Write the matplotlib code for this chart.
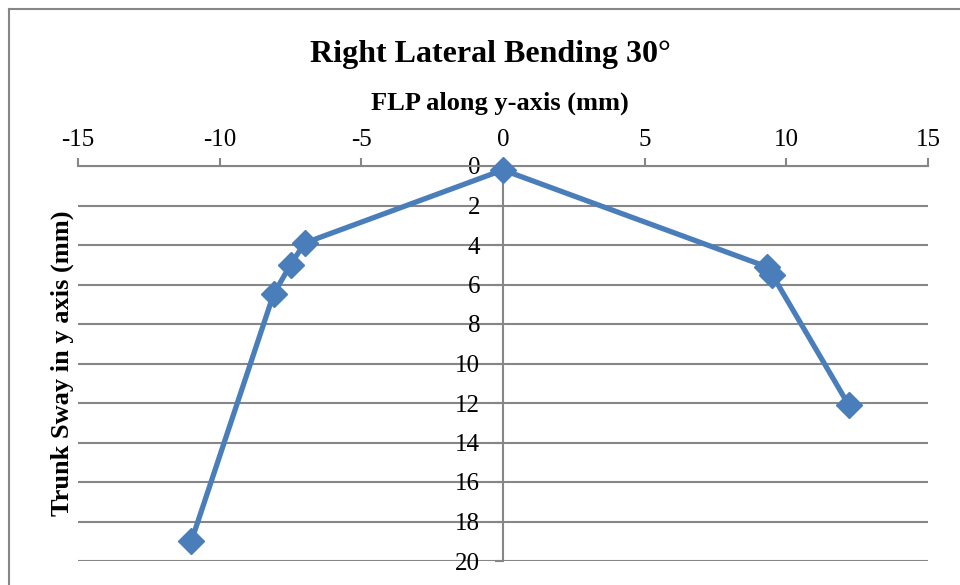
import matplotlib
matplotlib.use("Agg")
import matplotlib.pyplot as plt
from matplotlib.lines import Line2D

# Foot load point (mm) against trunk sway (mm) for right lateral bending
flp_y = [-11.0, -8.1, -7.5, -7.0, 0.0, 9.3, 9.5, 12.2]
trunk_sway = [19.0, 6.5, 5.0, 3.9, 0.2, 5.1, 5.5, 12.1]

x_ticks = [-15, -10, -5, 0, 5, 10, 15]
y_ticks = [0, 2, 4, 6, 8, 10, 12, 14, 16, 18, 20]

title = "Right Lateral Bending 30°"
x_label = "FLP along y-axis (mm)"
y_label = "Trunk Sway in y axis (mm)"

plt.rcParams["font.family"] = ["Liberation Serif", "DejaVu Serif"]
plt.rcParams["axes.unicode_minus"] = False

grey = "#868686"
blue = "#4A7EBB"

W, H = 960, 585
fig = plt.figure(figsize=(W / 100, H / 100), dpi=100)
ax_left, ax_right, ax_top, ax_bottom = 78, 928, 166, 561
ax = fig.add_axes([ax_left / W, 1 - ax_bottom / H,
                   (ax_right - ax_left) / W, (ax_bottom - ax_top) / H])
ax_h = ax_bottom - ax_top
ax_w = ax_right - ax_left

ax.plot(flp_y, trunk_sway, color=blue, lw=3.8, marker="D", ms=13,
        markerfacecolor=blue, markeredgecolor=blue, zorder=5, clip_on=False)

ax.set_xlim(-15, 15)
ax.set_ylim(20, 0)
ax.set_xticks(x_ticks)
ax.set_yticks(y_ticks)

# horizontal gridlines only
ax.yaxis.grid(True, color=grey, lw=1.5)
ax.xaxis.grid(False)
ax.set_axisbelow(True)

for side in ["right", "bottom"]:
    ax.spines[side].set_visible(False)
ax.spines["top"].set_color(grey)
ax.spines["top"].set_linewidth(1.5)
ax.spines["left"].set_position(("data", 0))
ax.spines["left"].set_color(grey)
ax.spines["left"].set_linewidth(1.5)

ax.xaxis.tick_top()
ax.tick_params(axis="x", direction="out", length=6, width=1.5, color=grey,
               labelsize=18, pad=4.5)
ax.tick_params(axis="y", direction="out", length=6, width=1.5, color=grey,
               labelsize=18, pad=10.5)

ax.set_title(title, fontsize=23, fontweight="bold",
             x=(490 - ax_left) / ax_w, y=1 + (ax_top - 62) / ax_h, pad=0)
ax.xaxis.set_label_position("top")
ax.set_xlabel(x_label, fontsize=19, fontweight="bold")
ax.xaxis.set_label_coords((500 - ax_left) / ax_w, 1 + (ax_top - 110) / ax_h)
ax.set_ylabel(y_label, fontsize=19, fontweight="bold")
ax.yaxis.set_label_coords((74 - ax_left) / ax_w, 0.5)

# chart-area frame
fig.add_artist(Line2D([9 / W, 9 / W], [0, 1 - 9 / H], transform=fig.transFigure,
                      color=grey, lw=1.5))
fig.add_artist(Line2D([9 / W, 1], [1 - 9 / H, 1 - 9 / H], transform=fig.transFigure,
                      color=grey, lw=1.5))

fig.savefig("out.png", dpi=100)
